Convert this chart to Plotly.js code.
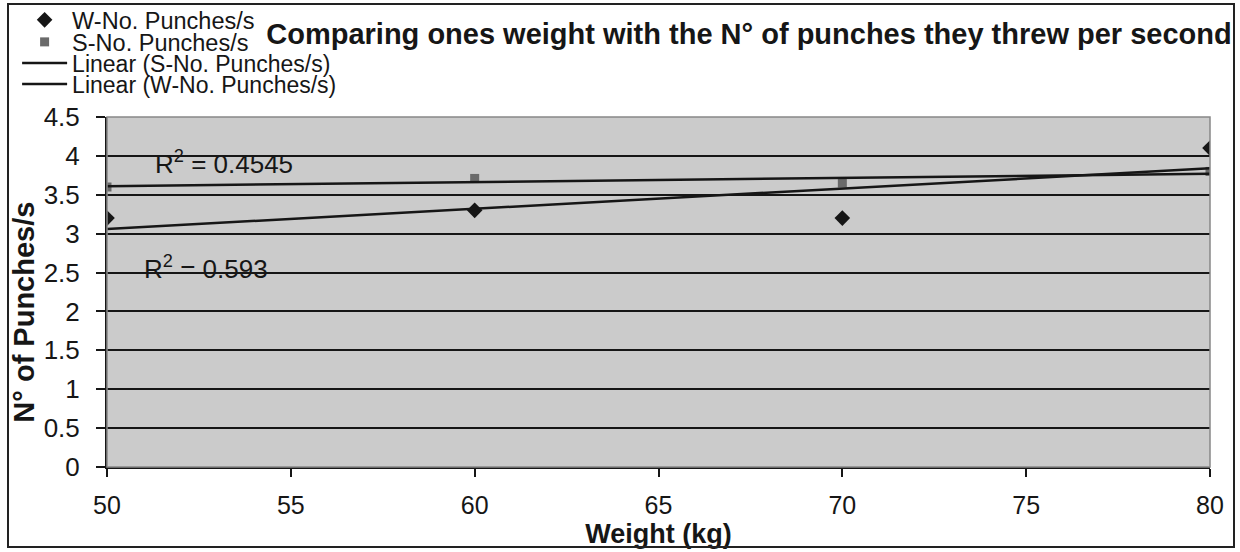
<!DOCTYPE html>
<html>
<head>
<meta charset="utf-8">
<script src="https://cdn.plot.ly/plotly-3.0.1.min.js"></script>
<style>
html,body{margin:0;padding:0;background:#fff;}
#wrap{position:relative;width:1240px;height:552px;}
#chart{width:1240px;height:552px;}
#frame{position:absolute;left:7px;top:3px;width:1228px;height:545px;border:2px solid #222;pointer-events:none;box-sizing:border-box;}
</style>
</head>
<body>
<div id="wrap"><div id="chart"></div><div id="frame"></div></div>
<script>
const weights = [50, 60, 70, 80];
const wPunches = [3.2, 3.3, 3.2, 4.1];
const sPunches = [3.6, 3.71, 3.65, 3.8];
const r2Labels = ["R<sup>2</sup> = 0.4545", "R<sup>2</sup> = 0.593"];
const seriesNames = ["W-No. Punches/s", "S-No. Punches/s", "Linear (S-No. Punches/s)", "Linear (W-No. Punches/s)"];
const xTicks = [50, 55, 60, 65, 70, 75, 80];
const yTicks = [0, 0.5, 1, 1.5, 2, 2.5, 3, 3.5, 4, 4.5];
const yTickText = ["0", "0.5", "1", "1.5", "2", "2.5", "3", "3.5", "4", "4.5"];

function linfit(xs, ys) {
  const n = xs.length;
  const mx = xs.reduce((a, b) => a + b, 0) / n;
  const my = ys.reduce((a, b) => a + b, 0) / n;
  let sxy = 0, sxx = 0;
  for (let i = 0; i < n; i++) { sxy += (xs[i] - mx) * (ys[i] - my); sxx += (xs[i] - mx) ** 2; }
  const m = sxy / sxx, b = my - m * mx;
  const x0 = Math.min(...xs), x1 = Math.max(...xs);
  return { x: [x0, x1], y: [m * x0 + b, m * x1 + b] };
}
const fitS = linfit(weights, sPunches);
const fitW = linfit(weights, wPunches);

const font = "Liberation Sans, Arial, sans-serif";
const ink = "#161616";

const traces = [
  { x: weights, y: wPunches, mode: "markers", type: "scatter", name: seriesNames[0], legend: "legend",
    marker: { symbol: "diamond", size: 12, color: ink } },
  { x: weights, y: sPunches, mode: "markers", type: "scatter", name: seriesNames[1], legend: "legend2",
    marker: { symbol: "square", size: 9, color: "#6a6a6a" } },
  { x: fitS.x, y: fitS.y, mode: "lines", type: "scatter", name: seriesNames[2], legend: "legend3",
    line: { color: ink, width: 2.5 } },
  { x: fitW.x, y: fitW.y, mode: "lines", type: "scatter", name: seriesNames[3], legend: "legend4",
    line: { color: ink, width: 2.5 } }
];

function leg(yc, size) {
  return { x: -0.0815, xanchor: "left", y: yc, yanchor: "middle", bgcolor: "rgba(0,0,0,0)",
    font: { family: font, size: size, color: ink }, itemwidth: 45, borderwidth: 0 };
}

const layout = {
  width: 1240, height: 552,
  margin: { l: 107, r: 30, t: 117, b: 85, autoexpand: false },
  paper_bgcolor: "#ffffff",
  plot_bgcolor: "#cbcbcb",
  font: { family: font, color: ink, size: 25 },
  title: { text: "<b>Comparing ones weight with the N° of punches they threw per second</b>",
    font: { family: font, size: 29, color: ink },
    x: 749 / 1240, xanchor: "center", y: 1 - 34 / 552, yanchor: "middle", xref: "container", yref: "container" },
  showlegend: true,
  legend: leg(1.277, 23.5),
  legend2: leg(1.214, 23.5),
  legend3: leg(1.154, 23),
  legend4: leg(1.094, 23),
  xaxis: {
    range: [50, 80], tickvals: xTicks, ticktext: xTicks.map(String),
    showgrid: false, zeroline: false, showline: true, linecolor: ink, linewidth: 2,
    ticks: "outside", ticklen: 8, tickwidth: 2, tickcolor: ink, ticklabelstandoff: 7,
    tickfont: { family: font, size: 25, color: ink },
    title: { text: "<b>Weight (kg)</b>", font: { family: font, size: 27, color: ink }, standoff: 0 }
  },
  yaxis: {
    range: [0, 4.5], tickvals: yTicks, ticktext: yTickText,
    showgrid: true, gridcolor: ink, gridwidth: 1.6, zeroline: false,
    showline: true, linecolor: ink, linewidth: 2,
    ticks: "outside", ticklen: 9, tickwidth: 2, tickcolor: ink, ticklabelstandoff: 11,
    tickfont: { family: font, size: 26, color: ink },
    title: { text: "<b>N° of Punches/s</b>&nbsp;&nbsp;&nbsp;&nbsp;&nbsp;", font: { family: font, size: 29, color: ink }, standoff: 0 }
  },
  shapes: [
    { type: "rect", xref: "paper", yref: "paper", x0: 0, x1: 1, y0: 0, y1: 1,
      line: { color: "#888", width: 1.5 }, fillcolor: "rgba(0,0,0,0)", layer: "above" }
  ],
  annotations: [
    { x: 51.25, y: 3.91, xref: "x", yref: "y", text: r2Labels[0], showarrow: false,
      xanchor: "left", yanchor: "middle", font: { family: font, size: 26, color: ink } },
    { x: 50.95, y: 2.56, xref: "x", yref: "y", text: r2Labels[1], showarrow: false,
      xanchor: "left", yanchor: "middle", font: { family: font, size: 26, color: ink } }
  ]
};

Plotly.newPlot("chart", traces, layout, { displayModeBar: false, responsive: false });
</script>
</body>
</html>
